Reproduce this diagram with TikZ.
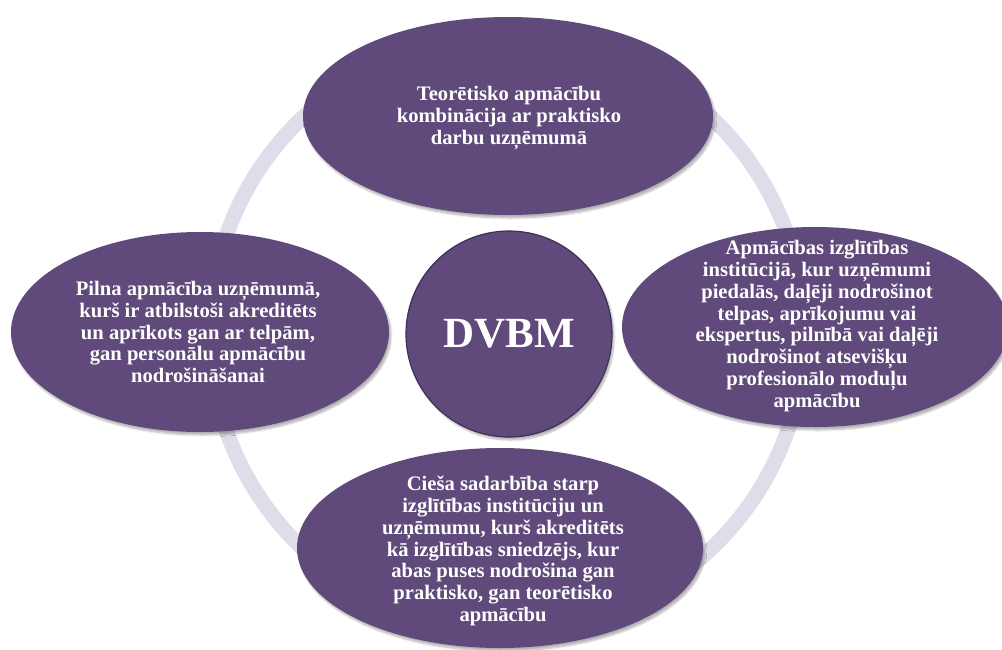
\documentclass[tikz,border=0pt]{standalone}
\usepackage{fontspec}
\setmainfont{Liberation Serif}
\usetikzlibrary{shapes.geometric,shadows.blur}
\definecolor{bubblefill}{HTML}{5F4A7B}
\definecolor{ringcol}{HTML}{E1DCEA}
\definecolor{edgecol}{HTML}{3E3054}
\tikzset{
  bubble/.style={ellipse, fill=bubblefill, draw=none, inner sep=0pt,
    blur shadow={shadow xshift=2pt, shadow yshift=-3pt, shadow blur steps=8, shadow opacity=30}},
  hub/.style={circle, fill=bubblefill, draw=edgecol, line width=1.2pt, inner sep=0pt,
    blur shadow={shadow xshift=2pt, shadow yshift=-3pt, shadow blur steps=8, shadow opacity=30}},
  txt/.style={text=white, align=center, font=\bfseries\fontsize{20.6}{21.9}\selectfont, inner sep=0pt},
  ringstyle/.style={draw=ringcol, line width=15pt}
}
\begin{document}
\begin{tikzpicture}[x=1pt,y=-1pt]
\useasboundingbox (0,0) rectangle (1002,649);
\clip (0,0) rectangle (1002,649);
% ring
\coordinate (c) at (507,333);
\draw[ringstyle] (c) circle[radius=297];
% bubbles
\node[bubble, minimum width=410, minimum height=198] (top) at (508,116) {};
\node[bubble, minimum width=386, minimum height=200] (right) at (815,327) {};
\node[bubble, minimum width=378, minimum height=200] (left) at (200,332) {};
\node[bubble, minimum width=406, minimum height=200] (bottom) at (500,548) {};
\node[hub, minimum size=206] (hub) at (509,334) {};
% texts
\node[txt] (toptext) at (509,118) {Teorētisko apmācību\\kombinācija ar praktisko\\darbu uzņēmumā};
\node[txt] (righttext) at (817,326) {Apmācības izglītības\\institūcijā, kur uzņēmumi\\piedalās, daļēji nodrošinot\\telpas, aprīkojumu vai\\ekspertus, pilnībā vai daļēji\\nodrošinot atsevišķu\\profesionālo moduļu\\apmācību};
\node[txt] (lefttext) at (198,332) {Pilna apmācība uzņēmumā,\\kurš ir atbilstoši akreditēts\\un aprīkots gan ar telpām,\\gan personālu apmācību\\nodrošināšanai};
\node[txt] (bottomtext) at (503,551) {Cieša sadarbība starp\\izglītības institūciju un\\uzņēmumu, kurš akreditēts\\kā izglītības sniedzējs, kur\\abas puses nodrošina gan\\praktisko, gan teorētisko\\apmācību};
\node[txt, font=\bfseries\fontsize{43}{48}\selectfont] (hubtext) at (hub) {DVBM};
\end{tikzpicture}
\end{document}
